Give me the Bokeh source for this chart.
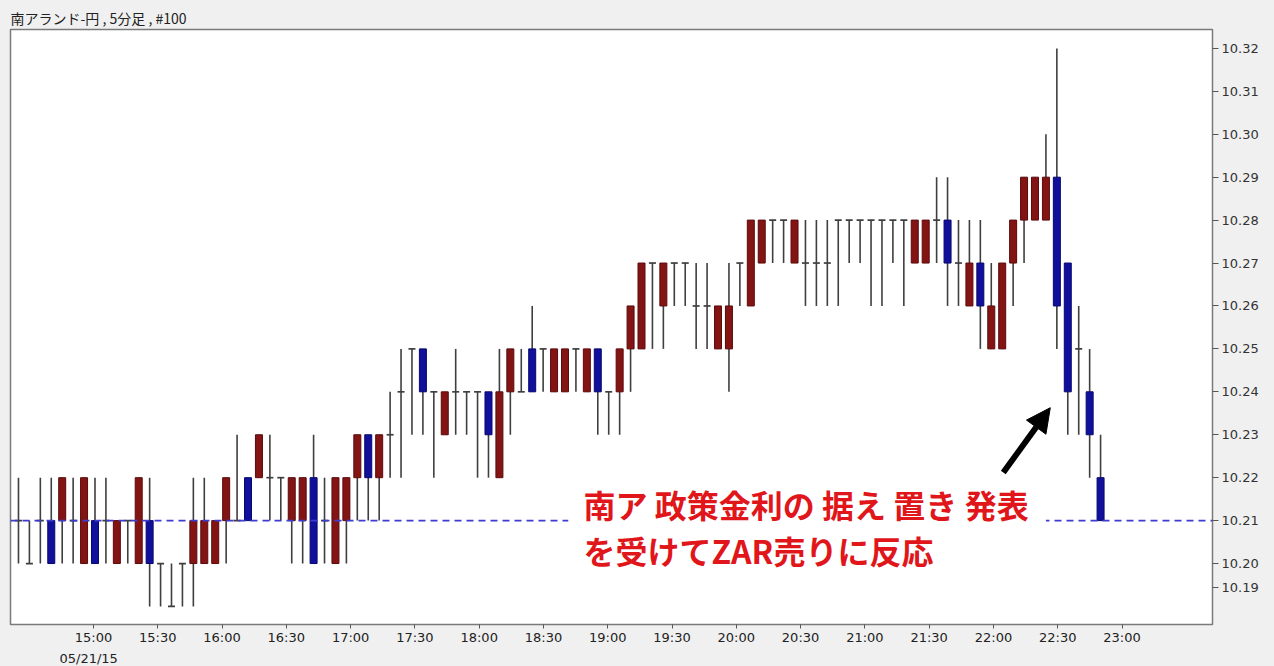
import pandas as pd
from bokeh.plotting import figure
from bokeh.models import (ColumnDataSource, Range1d, FixedTicker, Span, Label, Title,
                          BoxAnnotation, Arrow, NormalHead)
from bokeh.embed import file_html
from bokeh.resources import INLINE

# ---------------- data ----------------
title_text = "南アランド-円 , 5分足 , #100"
chart_date = "2015-05-21"
first_bar_time = "14:25"   # time of the first of the 100 bars
last_bar_time = "22:50"    # time of the last bar (a couple of empty 5-min slots in between)

opens = [10.21, 10.20, 10.21, 10.21, 10.21, 10.21, 10.20, 10.21, 10.21, 10.20,
         10.21, 10.20, 10.21, 10.20, 10.19, 10.20, 10.20, 10.20, 10.20, 10.21,
         10.21, 10.22, 10.22, 10.22, 10.22, 10.21, 10.21, 10.22, 10.21, 10.20,
         10.21, 10.22, 10.23, 10.22, 10.23, 10.24, 10.25, 10.25, 10.24, 10.23,
         10.24, 10.24, 10.24, 10.24, 10.22, 10.24, 10.24, 10.25, 10.25, 10.24,
         10.24, 10.25, 10.24, 10.25, 10.24, 10.24, 10.25, 10.25, 10.27, 10.26,
         10.27, 10.27, 10.26, 10.26, 10.25, 10.25, 10.27, 10.26, 10.27, 10.28,
         10.28, 10.27, 10.27, 10.27, 10.27, 10.28, 10.28, 10.28, 10.28, 10.28,
         10.28, 10.28, 10.27, 10.27, 10.28, 10.28, 10.27, 10.26, 10.27, 10.25,
         10.25, 10.27, 10.28, 10.28, 10.28, 10.29, 10.27, 10.25, 10.24, 10.22]
highs = [10.22, 10.21, 10.22, 10.22, 10.22, 10.22, 10.22, 10.22, 10.22, 10.21,
         10.21, 10.22, 10.22, 10.20, 10.20, 10.20, 10.22, 10.22, 10.21, 10.22,
         10.23, 10.22, 10.23, 10.23, 10.22, 10.22, 10.22, 10.23, 10.22, 10.22,
         10.22, 10.23, 10.23, 10.23, 10.24, 10.25, 10.25, 10.25, 10.24, 10.24,
         10.25, 10.24, 10.24, 10.24, 10.25, 10.25, 10.25, 10.26, 10.25, 10.25,
         10.25, 10.25, 10.25, 10.25, 10.24, 10.25, 10.26, 10.27, 10.27, 10.27,
         10.27, 10.27, 10.27, 10.27, 10.26, 10.27, 10.27, 10.28, 10.28, 10.28,
         10.28, 10.28, 10.28, 10.28, 10.28, 10.28, 10.28, 10.28, 10.28, 10.28,
         10.28, 10.28, 10.28, 10.28, 10.29, 10.29, 10.28, 10.28, 10.28, 10.27,
         10.27, 10.28, 10.29, 10.29, 10.30, 10.32, 10.27, 10.26, 10.25, 10.23]
lows = [10.20, 10.20, 10.20, 10.20, 10.20, 10.20, 10.20, 10.20, 10.20, 10.20,
        10.20, 10.20, 10.19, 10.19, 10.19, 10.19, 10.19, 10.20, 10.20, 10.20,
        10.21, 10.21, 10.22, 10.21, 10.21, 10.20, 10.20, 10.20, 10.20, 10.20,
        10.20, 10.21, 10.21, 10.21, 10.22, 10.22, 10.23, 10.23, 10.22, 10.23,
        10.23, 10.23, 10.22, 10.22, 10.22, 10.23, 10.24, 10.24, 10.24, 10.24,
        10.24, 10.24, 10.24, 10.23, 10.23, 10.23, 10.24, 10.25, 10.25, 10.25,
        10.26, 10.26, 10.25, 10.25, 10.25, 10.24, 10.26, 10.26, 10.27, 10.27,
        10.27, 10.27, 10.26, 10.26, 10.26, 10.26, 10.27, 10.27, 10.26, 10.26,
        10.27, 10.26, 10.27, 10.27, 10.27, 10.26, 10.26, 10.26, 10.25, 10.25,
        10.25, 10.26, 10.27, 10.28, 10.28, 10.25, 10.23, 10.23, 10.22, 10.21]
closes = [10.21, 10.20, 10.21, 10.20, 10.22, 10.21, 10.22, 10.20, 10.21, 10.21,
          10.21, 10.22, 10.20, 10.20, 10.19, 10.20, 10.21, 10.21, 10.21, 10.22,
          10.21, 10.21, 10.23, 10.22, 10.22, 10.22, 10.22, 10.20, 10.21, 10.22,
          10.22, 10.23, 10.22, 10.23, 10.23, 10.24, 10.25, 10.24, 10.24, 10.24,
          10.24, 10.24, 10.24, 10.23, 10.24, 10.25, 10.24, 10.24, 10.25, 10.25,
          10.25, 10.25, 10.25, 10.24, 10.24, 10.25, 10.26, 10.27, 10.27, 10.27,
          10.27, 10.27, 10.26, 10.26, 10.26, 10.26, 10.27, 10.28, 10.28, 10.28,
          10.28, 10.28, 10.27, 10.27, 10.27, 10.28, 10.28, 10.28, 10.28, 10.28,
          10.28, 10.28, 10.28, 10.28, 10.28, 10.27, 10.27, 10.27, 10.26, 10.26,
          10.27, 10.28, 10.29, 10.29, 10.29, 10.26, 10.24, 10.25, 10.23, 10.21]

x_tick_labels = ["15:00", "15:30", "16:00", "16:30", "17:00", "17:30", "18:00",
                 "18:30", "19:00", "19:30", "20:00", "20:30", "21:00", "21:30",
                 "22:00", "22:30", "23:00"]
date_label = "05/21/15"
y_tick_values = [10.20, 10.21, 10.22, 10.23, 10.24, 10.25, 10.26, 10.27,
                 10.28, 10.29, 10.30, 10.31, 10.32]
y_tick_labels = ["10.20", "10.21", "10.22", "10.23", "10.24", "10.25", "10.26",
                 "10.27", "10.28", "10.29", "10.30", "10.31", "10.32"]
low_tick_label = "10.19"
current_price = 10.21
note_lines = ["南ア 政策金利の 据え 置き 発表", "を受けてZAR売りに反応"]

# ---------------- derived ----------------
n = len(opens)
idx = list(range(n))
t_first = pd.Timestamp(f"{chart_date} {first_bar_time}")
t_last = pd.Timestamp(f"{chart_date} {last_bar_time}")

def pos_of(label):
    t = pd.Timestamp(f"{chart_date} {label}")
    return (t - t_first) / (t_last - t_first) * (n - 1)

x_ticks = [pos_of(l) for l in x_tick_labels]

up = dict(x=[], o=[], c=[])
dn = dict(x=[], o=[], c=[])
dj = dict(x0=[], x1=[], y=[])
for i in idx:
    o, c = opens[i], closes[i]
    if round(c - o, 4) > 0:
        up["x"].append(i); up["o"].append(o); up["c"].append(c)
    elif round(c - o, 4) < 0:
        dn["x"].append(i); dn["o"].append(o); dn["c"].append(c)
    else:
        dj["x0"].append(i - 0.32); dj["x1"].append(i + 0.32); dj["y"].append(o)

# ---------------- figure ----------------
W, H = 1274, 666
p = figure(width=W, height=H, output_backend="svg", toolbar_location=None,
           x_range=Range1d(-0.73, 109.24), y_range=Range1d(10.1858, 10.3244),
           y_axis_location="right", min_border_left=10, min_border_right=62,
           min_border_top=29, min_border_bottom=41)

p.title.text = title_text
p.title.text_font = "Noto Sans CJK JP"
p.title.text_font_size = "14px"
p.title.text_font_style = "normal"
p.title.text_color = "#222222"
p.title.align = "left"
p.title.offset = 0
p.title.standoff = 3

p.border_fill_color = "#f0f0f0"
p.background_fill_color = "white"
p.outline_line_color = "#7a7a7a"
p.outline_line_width = 1.5
p.xgrid.visible = False
p.ygrid.visible = False

# wicks
p.segment(x0=idx, y0=lows, x1=idx, y1=highs, line_color="#3f3f3f", line_width=1.6)
# doji ticks
p.segment(x0="x0", y0="y", x1="x1", y1="y", source=ColumnDataSource(dj),
          line_color="#3f3f3f", line_width=1.7)
# bodies
p.vbar(x="x", width=0.64, top="c", bottom="o", source=ColumnDataSource(up),
       fill_color="#841414", line_color="#5a0b0b", line_width=1)
p.vbar(x="x", width=0.64, top="o", bottom="c", source=ColumnDataSource(dn),
       fill_color="#10109c", line_color="#08086c", line_width=1)

# current price dashed line
p.add_layout(Span(location=current_price, dimension="width", line_color="#3c3cd0",
                  line_dash="7 5", line_width=1.6))

# white box behind the annotation text
p.add_layout(BoxAnnotation(left=50.3, right=94.0, bottom=10.199, top=10.2186,
                           fill_color="white", fill_alpha=1.0, line_color=None))
for k, yv in enumerate([10.2139, 10.2032]):
    p.add_layout(Label(x=51.7, y=yv, text=note_lines[k], text_font="Noto Sans CJK JP",
                       text_font_size="32px", text_font_style="bold", text_color="#e0161b",
                       text_baseline="middle", text_align="left"))

# arrow
p.add_layout(Arrow(end=NormalHead(size=24, fill_color="black", line_color="black"),
                   x_start=90.1, y_start=10.2212, x_end=94.4, y_end=10.2363,
                   line_width=6, line_color="black"))

# x axis
xa = p.xaxis[0]
xa.ticker = FixedTicker(ticks=x_ticks)
xa.major_label_overrides = {x_ticks[k]: x_tick_labels[k] for k in range(len(x_ticks))}
xa.major_label_text_font = "DejaVu Sans"
xa.major_label_text_font_size = "13px"
xa.major_label_text_color = "#222222"
xa.major_tick_in = 0
xa.major_tick_out = 4
xa.minor_tick_line_color = None
xa.axis_line_color = "#7a7a7a"
xa.major_tick_line_color = "#555555"
xa.major_label_standoff = 1

# date under the first time label
p.add_layout(Title(text=date_label, align="left", offset=49, standoff=2,
                   text_font="DejaVu Sans", text_font_size="13px",
                   text_font_style="normal", text_color="#222222"), "below")

# y axis (right)
low_tick_pos = 10.20 - 0.0055
ya = p.yaxis[0]
ya.ticker = FixedTicker(ticks=[low_tick_pos] + y_tick_values)
yov = {low_tick_pos: low_tick_label}
for v, s in zip(y_tick_values, y_tick_labels):
    yov[v] = s
ya.major_label_overrides = yov
ya.major_label_text_font = "DejaVu Sans"
ya.major_label_text_font_size = "13px"
ya.major_label_text_color = "#333333"
ya.major_tick_in = 0
ya.major_tick_out = 6
ya.minor_tick_line_color = None
ya.axis_line_color = "#7a7a7a"
ya.major_tick_line_color = "#555555"
ya.major_label_standoff = 3

html = file_html(p, INLINE, title="chart")
html = html.replace("<head>", "<head><style>html,body{background:#f0f0f0;margin:0;}</style>", 1)
open("out.html", "w").write(html)
